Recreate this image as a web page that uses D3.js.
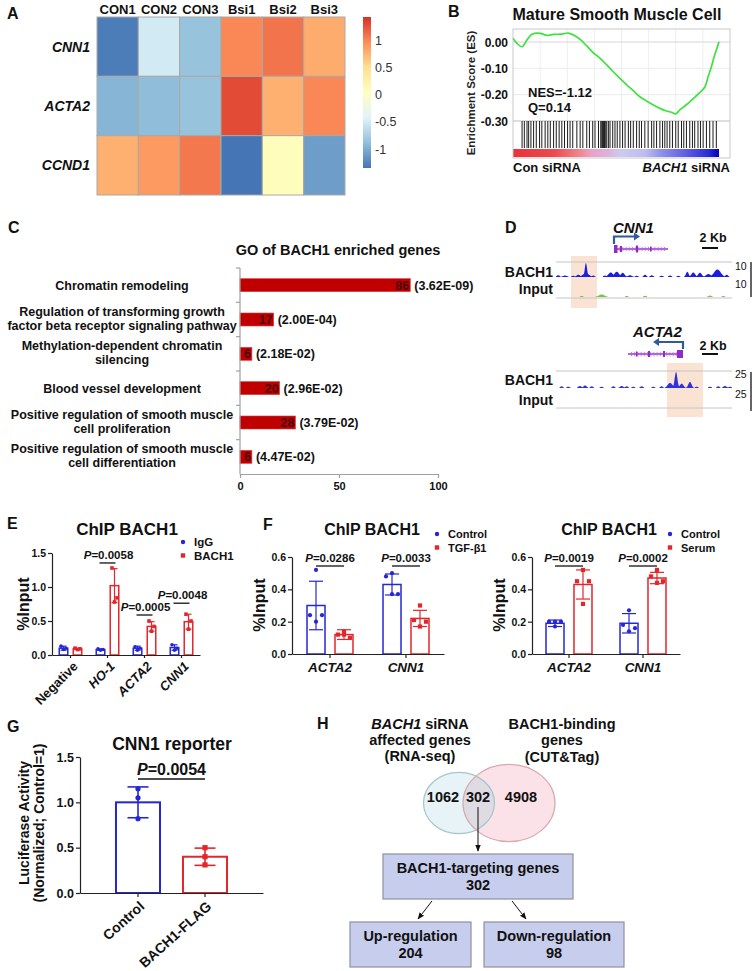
<!DOCTYPE html>
<html><head><meta charset="utf-8">
<script src="https://cdn.jsdelivr.net/npm/d3@7"></script>
<style>html,body{margin:0;padding:0;background:#fff}</style>
</head><body>
<svg id="fig" width="756" height="971" xmlns="http://www.w3.org/2000/svg"></svg>
<script>
// ================= DATA =================
// A: heatmap (row z-scores)
const hmSamples = ["CON1","CON2","CON3","Bsi1","Bsi2","Bsi3"];
const hmGenes = ["CNN1","ACTA2","CCND1"];
const hmCNN1 = [-1.3,-0.5,-0.85,1.0,1.1,0.8];
const hmACTA2 = [-0.95,-0.9,-0.85,1.3,0.78,1.0];
const hmCCND1 = [0.78,0.9,1.08,-1.35,0.08,-1.1];
const hmRange = [-1.35,1.44];
const hmLegendTicks = [1,0.5,0,-0.5,-1];

// B: GSEA running enrichment score
const esRank = [0,0.019,0.044,0.068,0.092,0.132,0.165,0.197,0.237,0.269,0.302,0.326,0.358,0.390,0.423,0.455,0.487,0.519,0.552,0.584,0.616,0.648,0.681,0.713,0.745,0.769,0.790,0.810,0.834,0.858,0.882,0.906,0.931,0.947,0.963,0.979,0.990,1.0];
const esValue = [0.014,-0.005,-0.018,0.008,0.029,0.033,0.025,0.029,0.030,0.034,0.023,0.010,-0.015,-0.041,-0.062,-0.087,-0.113,-0.138,-0.163,-0.185,-0.208,-0.224,-0.239,-0.252,-0.262,-0.267,-0.273,-0.258,-0.243,-0.227,-0.210,-0.192,-0.172,-0.132,-0.094,-0.049,-0.024,0.001];
const esHits = [0.044,0.055,0.068,0.076,0.087,0.100,0.113,0.129,0.140,0.156,0.169,0.181,0.197,0.210,0.224,0.237,0.250,0.265,0.277,0.290,0.310,0.326,0.339,0.358,0.371,0.387,0.398,0.415,0.426,0.431,0.435,0.439,0.444,0.448,0.455,0.463,0.471,0.484,0.495,0.506,0.519,0.532,0.544,0.560,0.571,0.584,0.600,0.613,0.624,0.640,0.656,0.673,0.684,0.697,0.713,0.726,0.737,0.748,0.761,0.774,0.790,0.802,0.818,0.829,0.842,0.858,0.871,0.882,0.898,0.910,0.923,0.939,0.955,0.971,0.987];
const esTicks = [0,-0.1,-0.2,-0.3];
const esStats = ["NES=-1.12","Q=0.14"];

// C: GO enrichment
const goTerms = [["Chromatin remodeling"],["Regulation of transforming growth","factor beta receptor signaling pathway"],["Methylation-dependent chromatin","silencing"],["Blood vessel development"],["Positive regulation of smooth muscle","cell proliferation"],["Positive regulation of smooth muscle","cell differentiation"]];
const goCounts = [86,17,6,20,28,6];
const goPvals = ["(3.62E-09)","(2.00E-04)","(2.18E-02)","(2.96E-02)","(3.79E-02)","(4.47E-02)"];
const goTicks = [0,50,100];

// D: CUT&Tag tracks, bumps [position 0-100, relative height, width]
const dCnn1Bach1 = [[1.3,0.12,1.1],[5.1,0.1,1.5],[9.8,0.08,1.1],[12.7,0.15,1.5],[17.0,0.93,0.9],[17.0,0.25,2.5],[21.2,0.1,1.0],[27.8,0.1,1.1],[31.1,0.3,1.9],[34.5,0.35,1.9],[37.9,0.28,1.5],[42.0,0.12,1.5],[45.8,0.08,1.1],[50.6,0.15,1.1],[54.4,0.12,1.1],[60.0,0.08,1.1],[64.8,0.1,1.1],[69.5,0.08,1.0],[74.6,0.35,1.1],[78.0,0.3,1.5],[81.8,0.28,1.5],[86.6,0.2,1.9],[91.7,0.5,2.65],[97.0,0.15,1.1]];
const dCnn1Input = [[14.6,0.08,1.0],[25.9,0.2,2.2],[40.2,0.08,1.0],[50.6,0.1,1.0],[87.5,0.12,1.2],[95.1,0.08,1.0]];
const dActa2Bach1 = [[3.2,0.1,1.1],[7.0,0.08,1.1],[13.6,0.12,1.3],[16.5,0.15,1.3],[20.3,0.1,1.1],[25.9,0.08,1.1],[32.6,0.1,1.1],[37.3,0.12,1.3],[40.2,0.1,1.1],[43.9,0.08,1.1],[48.7,0.1,1.1],[55.3,0.08,1.1],[60.0,0.1,1.1],[64.8,0.3,1.9],[68.2,0.94,1.1],[71.4,0.25,1.5],[76.1,0.35,1.3],[79.9,0.08,1.1],[87.5,0.08,1.1],[92.2,0.1,1.1],[96.0,0.12,1.3],[98.9,0.08,1.0]];
const dScales = ["10","25"];

// E: ChIP BACH1
const eCats = ["Negative","HO-1","ACTA2","CNN1"];
const eIgG = [0.10,0.08,0.10,0.11];
const eIgGErr = [0.03,0.01,0.03,0.04];
const eIgGPts = [[0.13,0.10,0.08],[0.09,0.08,0.07],[0.12,0.10,0.07],[0.15,0.10,0.07]];
const eBach1 = [0.09,1.02,0.42,0.49];
const eBach1Err = [0.01,0.25,0.07,0.11];
const eBach1Pts = [[0.10,0.09,0.08],[1.28,0.84,0.78],[0.50,0.42,0.35],[0.60,0.50,0.38]];
const eP = [null,"0.0058","0.0005","0.0048"];
const eTicks = [0,0.5,1.0,1.5];

// F: ChIP BACH1 (TGF-b1 / Serum)
const fCats = ["ACTA2","CNN1"];
const fCtlA = [0.30,0.43], fCtlAErr = [0.15,0.065], fCtlAPts = [[0.52,0.24,0.24,0.20],[0.50,0.48,0.37,0.37]];
const fTgf = [0.12,0.22], fTgfErr = [0.03,0.05], fTgfPts = [[0.14,0.12,0.10,0.12],[0.30,0.21,0.20,0.17]];
const fPA = ["0.0286","0.0033"];
const fCtlB = [0.19,0.19], fCtlBErr = [0.02,0.06], fCtlBPts = [[0.20,0.20,0.20,0.17],[0.27,0.18,0.16,0.14]];
const fSer = [0.43,0.47], fSerErr = [0.09,0.035], fSerPts = [[0.52,0.45,0.45,0.31],[0.52,0.48,0.45,0.44]];
const fPB = ["0.0019","0.0002"];
const fTicks = [0,0.2,0.4,0.6];

// G: CNN1 reporter
const gCats = ["Control","BACH1-FLAG"];
const gMean = [1.0,0.40];
const gErr = [0.17,0.095];
const gPts = [[1.15,1.05,0.82],[0.50,0.40,0.31]];
const gP = "0.0054";
const gTicks = [0,0.5,1.0,1.5];

// H: Venn / flow
const vennCounts = [1062,302,4908];
const targetCount = 302, upCount = 204, downCount = 98;

// ================= DRAW =================
const FF = '"Liberation Sans", Arial, Helvetica, sans-serif';
const svg = d3.select("#fig").attr("font-family", FF);
const defs = svg.append("defs");
const BLUE = "#2626d6", RED = "#e3262b";

function T(g, x, y, s, o = {}) {
  const t = g.append("text").attr("x", x).attr("y", y)
    .attr("font-size", o.size || 13)
    .attr("font-weight", o.weight || "bold")
    .attr("text-anchor", o.anchor || "start")
    .attr("fill", o.fill || "#111");
  if (o.italic) t.attr("font-style", "italic");
  if (o.rotate) t.attr("transform", `rotate(${o.rotate},${x},${y})`);
  if (s !== null) t.text(s);
  return t;
}
function pText(g, x, y, val, size) {
  const t = T(g, x, y, null, {size, anchor: "middle"});
  t.append("tspan").attr("font-style", "italic").text("P");
  t.append("tspan").text("=" + val);
  return t;
}
function styleAxis(ax, size, color) {
  ax.attr("font-family", FF);
  ax.selectAll("text").attr("font-size", size).attr("font-weight", "bold").attr("fill", "#111");
  ax.selectAll("path,line").attr("stroke", color || "#222").attr("stroke-width", 1.2);
}

// panel letters
[["A",7,19],["B",448,17],["C",8,233],["D",505,233],["E",7,529],["F",263,530],["G",7,732],["H",317,729]]
  .forEach(l => T(svg, l[1], l[2], l[0], {size: 16}));

// ---------- A ----------
const gA = svg.append("g");
const hmX = d3.scaleBand().domain(hmSamples).range([97, 345]);
const hmY = d3.scaleBand().domain(hmGenes).range([17, 195]);
const hmStops = ["#4575B4","#91BFDB","#E0F3F8","#FFFFBF","#FEE090","#FC8D59","#D73027"];
const hmColor = d3.scaleLinear()
  .domain(hmStops.map((c, i) => hmRange[0] + i * (hmRange[1] - hmRange[0]) / 6))
  .range(hmStops).clamp(true);
const hmRows = [hmCNN1, hmACTA2, hmCCND1];
hmGenes.forEach((gn, i) => {
  gA.selectAll(null).data(hmRows[i]).join("rect")
    .attr("x", (d, j) => hmX(hmSamples[j])).attr("y", hmY(gn))
    .attr("width", hmX.bandwidth()).attr("height", hmY.bandwidth())
    .attr("fill", d => hmColor(d)).attr("stroke", "#a9a9a9").attr("stroke-width", 1);
  T(gA, 90, hmY(gn) + hmY.bandwidth() / 2 + 5, gn, {size: 14, anchor: "end", italic: true});
});
hmSamples.forEach(s => T(gA, hmX(s) + hmX.bandwidth() / 2, 14, s, {size: 13, anchor: "middle"}));
const lgA = defs.append("linearGradient").attr("id", "hmGrad").attr("x1", 0).attr("y1", 1).attr("x2", 0).attr("y2", 0);
hmStops.forEach((c, i) => lgA.append("stop").attr("offset", i / 6).attr("stop-color", c));
const legY = d3.scaleLinear().domain(hmRange).range([168, 17]);
gA.append("rect").attr("x", 363).attr("y", legY(hmRange[1])).attr("width", 8)
  .attr("height", legY(hmRange[0]) - legY(hmRange[1])).attr("fill", "url(#hmGrad)");
hmLegendTicks.forEach(v => T(gA, 375, legY(v) + 4.5, String(v), {size: 12.5, weight: "normal", fill: "#333"}));

// ---------- B ----------
const gB = svg.append("g");
const fx0 = 513, fx1 = 730, fy0 = 29, fy1 = 158;
const esX = d3.scaleLinear([0, 1], [513, 719]);
const esY = d3.scaleLinear([0, -0.3], [42, 121]);
gB.append("rect").attr("x", fx0).attr("y", fy0).attr("width", fx1 - fx0).attr("height", fy1 - fy0).attr("fill", "#fff");
d3.range(1, 8).forEach(i => {
  const x = fx0 + i * (fx1 - fx0) / 8;
  gB.append("line").attr("x1", x).attr("x2", x).attr("y1", fy0).attr("y2", esY(-0.3)).attr("stroke", "#eeeeee");
});
esTicks.forEach(v => {
  gB.append("line").attr("x1", fx0).attr("x2", fx1).attr("y1", esY(v)).attr("y2", esY(v))
    .attr("stroke", v === -0.3 ? "#bdbdbd" : (v === 0 ? "#d6d6d6" : "#ebebeb")).attr("stroke-width", 1);
  T(gB, 508, esY(v) + 4.5, d3.format(".2f")(v).replace("−", "-"), {size: 12, anchor: "end"});
});
gB.append("path").datum(d3.zip(esRank, esValue))
  .attr("d", d3.line().x(d => esX(d[0])).y(d => esY(d[1])).curve(d3.curveCatmullRom))
  .attr("fill", "none").attr("stroke", "#3ee23e").attr("stroke-width", 1.7);
gB.selectAll(null).data(esHits).join("line")
  .attr("x1", d => esX(d)).attr("x2", d => esX(d)).attr("y1", esY(-0.3)).attr("y2", 148)
  .attr("stroke", "#1c1c1c").attr("stroke-width", 1);
const lgB = defs.append("linearGradient").attr("id", "esGrad");
[[0,"#e8333a"],[0.2,"#ec4a50"],[0.33,"#f08a92"],[0.38,"#e8a2c8"],[0.47,"#dcb4dc"],[0.52,"#cccbf2"],[0.64,"#bdbdf0"],[0.72,"#9090e8"],[0.85,"#5a5ae0"],[0.95,"#2a2ad6"],[1,"#0000c0"]]
  .forEach(s => lgB.append("stop").attr("offset", s[0]).attr("stop-color", s[1]));
gB.append("rect").attr("x", esX(0)).attr("y", 149).attr("width", esX(1) - esX(0)).attr("height", 8).attr("fill", "url(#esGrad)");
gB.append("rect").attr("x", fx0).attr("y", fy0).attr("width", fx1 - fx0).attr("height", fy1 - fy0)
  .attr("fill", "none").attr("stroke", "#c9c9c9").attr("stroke-width", 1);
T(gB, 617, 20, "Mature Smooth Muscle Cell", {size: 16, anchor: "middle"});
T(gB, 475, 93, "Enrichment Score (ES)", {size: 11.5, anchor: "middle", rotate: -90, fill: "#222"});
T(gB, 528, 97, esStats[0], {size: 13});
T(gB, 528, 112, esStats[1], {size: 13});
T(gB, 513, 172, "Con siRNA", {size: 13});
const bs = T(gB, 730, 172, null, {size: 13, anchor: "end"});
bs.append("tspan").attr("font-style", "italic").text("BACH1");
bs.append("tspan").text(" siRNA");

// ---------- C ----------
const gC = svg.append("g");
const goX = d3.scaleLinear([0, 100], [240, 438]);
const goY = d3.scaleBand().domain(d3.range(goCounts.length)).range([268, 474]);
T(gC, 338, 255, "GO of BACH1 enriched genes", {size: 14.5, anchor: "middle"});
const barH = 13;
goCounts.forEach((v, i) => {
  const cy = goY(i) + goY.bandwidth() / 2;
  gC.append("rect").attr("x", goX(0)).attr("y", cy - barH / 2).attr("width", goX(v) - goX(0)).attr("height", barH)
    .attr("fill", "#c00000").attr("stroke", "#dd3a3a").attr("stroke-width", 0.6);
  T(gC, goX(v) - 1, cy + 4.5, String(v), {size: 12.5, anchor: "end", fill: "#4a0000"});
  T(gC, goX(v) + 4, cy + 4.5, goPvals[i], {size: 12.5});
  const lines = goTerms[i];
  if (lines.length === 1) T(gC, 122, cy + 4.5, lines[0], {size: 12.5, anchor: "middle"});
  else { T(gC, 122, cy - 3.5, lines[0], {size: 12.5, anchor: "middle"}); T(gC, 122, cy + 10.5, lines[1], {size: 12.5, anchor: "middle"}); }
});
gC.append("line").attr("x1", 240).attr("x2", 240).attr("y1", goY.range()[0]).attr("y2", goY.range()[1]).attr("stroke", "#a0a0a0").attr("stroke-width", 1.2);
d3.range(goCounts.length).forEach(i => gC.append("line").attr("x1", 236).attr("x2", 240).attr("y1", goY(i)).attr("y2", goY(i)).attr("stroke", "#a0a0a0").attr("stroke-width", 1.2));
const axC = gC.append("g").attr("transform", "translate(0,474)").call(d3.axisBottom(goX).tickValues(goTicks).tickSize(4).tickPadding(4).tickSizeOuter(0));
styleAxis(axC, 11, "#a0a0a0");

// ---------- D ----------
const gD = svg.append("g");
const tX = d3.scaleLinear([0, 100], [556, 732]);
function track(bumps, base, height, color) {
  const us = d3.range(0, 100.01, 0.2);
  const vals = us.map(u => d3.max(bumps, b => b[1] * Math.exp(-(((u - b[0]) / b[2]) ** 2))));
  const area = d3.area().x((d, i) => tX(us[i])).y0(base).y1(d => base - Math.max(d * height, 0.8)).defined(d => d > 0.02);
  gD.append("path").datum(vals).attr("d", area).attr("fill", color);
}
function geneModel(x0, x1, y, dir, exons) {
  gD.append("line").attr("x1", x0).attr("x2", x1).attr("y1", y).attr("y2", y).attr("stroke", "#9a32cc").attr("stroke-width", 1.3);
  d3.range(x0 + 3, x1 - 2, 3.2).forEach(x => {
    const d = dir > 0 ? `M${x - 1.2},${y - 2.2}L${x + 1},${y}L${x - 1.2},${y + 2.2}` : `M${x + 1.2},${y - 2.2}L${x - 1},${y}L${x + 1.2},${y + 2.2}`;
    gD.append("path").attr("d", d).attr("fill", "none").attr("stroke", "#b068dc").attr("stroke-width", 0.8);
  });
  exons.forEach(e => gD.append("rect").attr("x", e[0]).attr("y", y - e[2] / 2).attr("width", e[1]).attr("height", e[2]).attr("fill", "#8e2cc4"));
}
function tssArrow(x, yb, yt, xe, dir) {
  gD.append("path").attr("d", `M${x},${yb}V${yt}H${xe}`).attr("fill", "none").attr("stroke", "#2f5b9b").attr("stroke-width", 2.2);
  gD.append("path").attr("d", `M${xe},${yt - 4}L${xe + dir * 6},${yt}L${xe},${yt + 4}Z`).attr("fill", "#2f5b9b");
}
// highlights
gD.append("rect").attr("x", 571).attr("y", 256).attr("width", 26).attr("height", 52).attr("fill", "#fbe3d3");
gD.append("rect").attr("x", 667).attr("y", 363).attr("width", 36).attr("height", 54).attr("fill", "#fbe3d3");
// CNN1 locus
T(gD, 613, 233, "CNN1", {size: 15, italic: true});
tssArrow(614, 244, 236.5, 634, 1);
geneModel(614, 668, 249, 1, [[614, 3.5, 8], [620, 2, 6], [636, 2, 7], [650, 1.5, 5]]);
gD.append("line").attr("x1", 702).attr("x2", 718).attr("y1", 248).attr("y2", 248).attr("stroke", "#111").attr("stroke-width", 2);
T(gD, 713, 242, "2 Kb", {size: 12.5, anchor: "middle"});
[262, 298].forEach(y => gD.append("line").attr("x1", 556).attr("x2", 732).attr("y1", y).attr("y2", y).attr("stroke", "#c4c4c4").attr("stroke-width", 1));
track(dCnn1Bach1, 277, 15, "#1d1de0");
track(dCnn1Input, 297, 13, "#7cc242");
T(gD, 553, 277, "BACH1", {size: 14, anchor: "end"});
T(gD, 553, 294, "Input", {size: 14, anchor: "end"});
T(gD, 735, 270, dScales[0], {size: 10.5, weight: "normal"});
T(gD, 735, 288, dScales[0], {size: 10.5, weight: "normal"});
gD.append("line").attr("x1", 751).attr("x2", 751).attr("y1", 262).attr("y2", 297).attr("stroke", "#111").attr("stroke-width", 1.3);
// ACTA2 locus
T(gD, 633, 337, "ACTA2", {size: 15, italic: true});
tssArrow(683, 349, 342, 659, -1);
geneModel(628, 683, 354, -1, [[677, 6, 8], [663, 2, 6], [648, 2, 6], [636, 1.5, 5]]);
gD.append("line").attr("x1", 702).attr("x2", 718).attr("y1", 354).attr("y2", 354).attr("stroke", "#111").attr("stroke-width", 2);
T(gD, 713, 350, "2 Kb", {size: 12.5, anchor: "middle"});
[371, 408].forEach(y => gD.append("line").attr("x1", 556).attr("x2", 732).attr("y1", y).attr("y2", y).attr("stroke", "#c4c4c4").attr("stroke-width", 1));
track(dActa2Bach1, 388, 17, "#3030dc");
T(gD, 553, 385, "BACH1", {size: 14, anchor: "end"});
T(gD, 553, 405, "Input", {size: 14, anchor: "end"});
T(gD, 735, 378, dScales[1], {size: 10.5, weight: "normal"});
T(gD, 735, 398, dScales[1], {size: 10.5, weight: "normal"});
gD.append("line").attr("x1", 751).attr("x2", 751).attr("y1", 372).attr("y2", 411).attr("stroke", "#111").attr("stroke-width", 1.3);

// ---------- bar helper ----------
function drawSeries(g, cats, xBand, inner, y, s, o) {
  const bw = inner.bandwidth(), off = inner(s.key) + bw / 2;
  cats.forEach((c, ci) => {
    const cx = xBand(c) + xBand.bandwidth() / 2 + off;
    const color = s.colors ? s.colors[ci] : s.color;
    const shape = s.shapes ? s.shapes[ci] : s.shape;
    const m = s.mean[ci], e = s.err[ci];
    g.append("rect").attr("x", cx - bw / 2).attr("y", y(m)).attr("width", bw).attr("height", y(0) - y(m))
      .attr("fill", "#fff").attr("stroke", color).attr("stroke-width", o.sw);
    const lo = Math.max(0, m - e), hi = m + e;
    g.append("line").attr("x1", cx).attr("x2", cx).attr("y1", y(lo)).attr("y2", y(hi)).attr("stroke", color).attr("stroke-width", o.ew);
    [lo, hi].forEach(v => g.append("line").attr("x1", cx - o.cap / 2).attr("x2", cx + o.cap / 2).attr("y1", y(v)).attr("y2", y(v)).attr("stroke", color).attr("stroke-width", o.ew));
    s.pts[ci].forEach((p, pi) => {
      const px = cx + o.jit[pi];
      if (shape === "circle") g.append("circle").attr("cx", px).attr("cy", y(p)).attr("r", o.pr).attr("fill", color);
      else g.append("rect").attr("x", px - o.pr).attr("y", y(p) - o.pr).attr("width", 2 * o.pr).attr("height", 2 * o.pr).attr("fill", color);
    });
  });
  return off;
}
function legend(g, x, y, items, size) {
  items.forEach((it, i) => {
    const yy = y + i * 13.5;
    if (it[1] === "circle") g.append("circle").attr("cx", x).attr("cy", yy).attr("r", 2.2).attr("fill", it[2]);
    else g.append("rect").attr("x", x - 2.2).attr("y", yy - 2.2).attr("width", 4.4).attr("height", 4.4).attr("fill", it[2]);
    T(g, x + 11, yy + 4, it[0], {size});
  });
}
function yAxis(g, y, x, ticks, size) {
  const ax = g.append("g").attr("transform", `translate(${x},0)`)
    .call(d3.axisLeft(y).tickValues(ticks).tickFormat(d3.format(".1f")).tickSize(4).tickPadding(2).tickSizeOuter(0));
  styleAxis(ax, size);
  return ax;
}

// ---------- E ----------
const gE = svg.append("g");
const eY = d3.scaleLinear([0, 1.5], [655, 553]);
const eX = d3.scaleBand().domain(eCats).range([52, 200]);
const eIn = d3.scaleBand().domain(["IgG", "BACH1"]).range([-14, 14]).paddingInner(0.39).paddingOuter(0.195);
const eOpt = {sw: 1.5, ew: 1.2, cap: 6, pr: 1.8, jit: [-2.5, 2.5, 0]};
drawSeries(gE, eCats, eX, eIn, eY, {key: "IgG", color: BLUE, shape: "circle", mean: eIgG, err: eIgGErr, pts: eIgGPts}, eOpt);
drawSeries(gE, eCats, eX, eIn, eY, {key: "BACH1", color: RED, shape: "square", mean: eBach1, err: eBach1Err, pts: eBach1Pts}, eOpt);
yAxis(gE, eY, 52, eTicks, 10.5);
const axE = gE.append("g").attr("transform", "translate(0,655)").call(d3.axisBottom(eX).tickSize(3).tickSizeOuter(0));
styleAxis(axE, 13);
axE.selectAll("text").attr("y", 0).attr("dy", "0.35em").attr("transform", "translate(5,9) rotate(-45)")
  .style("text-anchor", "end").attr("font-style", d => d === "Negative" ? "normal" : "italic");
// bracket gap above the highest mark (layout, px) per comparison
const eBracketGap = [0, 5, 6, 11];
eCats.forEach((c, ci) => {
  if (!eP[ci]) return;
  const c1 = eX(c) + eX.bandwidth() / 2 + eIn("IgG") + eIn.bandwidth() / 2;
  const c2 = eX(c) + eX.bandwidth() / 2 + eIn("BACH1") + eIn.bandwidth() / 2;
  const top = Math.max(eBach1[ci] + eBach1Err[ci], d3.max(eBach1Pts[ci]));
  const ly = eY(top) - eBracketGap[ci];
  gE.append("line").attr("x1", c1 - 1).attr("x2", c2 + 1).attr("y1", ly).attr("y2", ly).attr("stroke", "#111").attr("stroke-width", 1.3);
  pText(gE, (c1 + c2) / 2 + 1, ly - 4, eP[ci], 11.5);
});
T(gE, 127, 535, "ChIP BACH1", {size: 17, anchor: "middle"});
T(gE, 29, 604, "%Input", {size: 16, anchor: "middle", rotate: -90});
legend(gE, 183, 542, [["IgG", "circle", BLUE], ["BACH1", "square", RED]], 11.5);

// ---------- F ----------
function fPanel(x0, x1, ctl, ctlErr, ctlPts, trt, trtErr, trtPts, trtKey, pv, titleX, legX) {
  const g = svg.append("g");
  const y = d3.scaleLinear([0, 0.6], [654, 557]);
  const x = d3.scaleBand().domain(fCats).range([x0, x1]);
  const inn = d3.scaleBand().domain(["Control", trtKey]).range([-28, 28]).paddingInner(0.357).paddingOuter(0.179);
  const o = {sw: 1.5, ew: 1.2, cap: 14, pr: 2.1, jit: [0, -6, 6, 0]};
  drawSeries(g, fCats, x, inn, y, {key: "Control", color: BLUE, shape: "circle", mean: ctl, err: ctlErr, pts: ctlPts}, o);
  drawSeries(g, fCats, x, inn, y, {key: trtKey, color: RED, shape: "square", mean: trt, err: trtErr, pts: trtPts}, o);
  yAxis(g, y, x0, fTicks, 10.5);
  const ax = g.append("g").attr("transform", "translate(0,654)").call(d3.axisBottom(x).tickSize(4).tickPadding(4).tickSizeOuter(0));
  styleAxis(ax, 13.5);
  ax.selectAll("text").attr("font-style", "italic");
  fCats.forEach((c, ci) => {
    const c1 = x(c) + x.bandwidth() / 2 + inn("Control") + inn.bandwidth() / 2;
    const c2 = x(c) + x.bandwidth() / 2 + inn(trtKey) + inn.bandwidth() / 2;
    g.append("line").attr("x1", c1).attr("x2", c2).attr("y1", 566).attr("y2", 566).attr("stroke", "#111").attr("stroke-width", 1.3);
    pText(g, (c1 + c2) / 2, 562, pv[ci], 11.5);
  });
  T(g, titleX, 535, "ChIP BACH1", {size: 16, anchor: "middle"});
  T(g, x0 - 27, 605, "%Input", {size: 16, anchor: "middle", rotate: -90});
  legend(g, legX, 534, [["Control", "circle", BLUE], [trtKey, "square", RED]], 11);
}
fPanel(292, 444, fCtlA, fCtlAErr, fCtlAPts, fTgf, fTgfErr, fTgfPts, "TGF-β1", fPA, 372, 437);
fPanel(532, 680, fCtlB, fCtlBErr, fCtlBPts, fSer, fSerErr, fSerPts, "Serum", fPB, 609, 670);

// ---------- G ----------
const gG = svg.append("g");
const gY = d3.scaleLinear([0, 1.5], [893, 757]);
const gX = d3.scaleBand().domain(gCats).range([80, 263]).paddingInner(0.343).paddingOuter(0.537);
const gIn = d3.scaleBand().domain(["all"]).range([-gX.bandwidth() / 2, gX.bandwidth() / 2]);
drawSeries(gG, gCats, gX, gIn, gY, {key: "all", colors: [BLUE, RED], shapes: ["circle", "square"], mean: gMean, err: gErr, pts: gPts},
  {sw: 2, ew: 1.6, cap: 21, pr: 2.6, jit: [0, 0, 0]});
yAxis(gG, gY, 80, gTicks, 12.5);
const axG = gG.append("g").attr("transform", "translate(0,893)").call(d3.axisBottom(gX).tickSize(4).tickSizeOuter(0));
styleAxis(axG, 14);
axG.selectAll("text").attr("y", 0).attr("dy", "0.35em").attr("transform", "translate(4,11) rotate(-42)").style("text-anchor", "end");
{
  const c1 = gX(gCats[0]) + gX.bandwidth() / 2, c2 = gX(gCats[1]) + gX.bandwidth() / 2;
  gG.append("line").attr("x1", c1).attr("x2", c2).attr("y1", 779).attr("y2", 779).attr("stroke", "#111").attr("stroke-width", 1.5);
  pText(gG, (c1 + c2) / 2, 775, gP, 16);
}
T(gG, 172, 750, "CNN1 reporter", {size: 17.5, anchor: "middle"});
T(gG, 29, 823, "Luciferase Activity", {size: 14, anchor: "middle", rotate: -90});
T(gG, 44, 823, "(Normalized; Control=1)", {size: 14, anchor: "middle", rotate: -90});

// ---------- H ----------
const gH = svg.append("g");
defs.append("marker").attr("id", "arr").attr("viewBox", "0 0 10 10").attr("refX", 9).attr("refY", 5)
  .attr("markerWidth", 7).attr("markerHeight", 7).attr("orient", "auto")
  .append("path").attr("d", "M0,1L10,5L0,9Z").attr("fill", "#111");
const t1 = T(gH, 420, 729, null, {size: 14.5, anchor: "middle"});
t1.append("tspan").attr("font-style", "italic").text("BACH1");
t1.append("tspan").text(" siRNA");
T(gH, 420, 745, "affected genes", {size: 14.5, anchor: "middle"});
T(gH, 420, 761, "(RNA-seq)", {size: 14.5, anchor: "middle"});
T(gH, 562, 729, "BACH1-binding", {size: 14.5, anchor: "middle"});
T(gH, 562, 745, "genes", {size: 14.5, anchor: "middle"});
T(gH, 562, 762, "(CUT&Tag)", {size: 14.5, anchor: "middle"});
const eL = {cx: 459, cy: 803, rx: 35.5, ry: 30.7}, eR = {cx: 509, cy: 803, rx: 46, ry: 38.7};
defs.append("clipPath").attr("id", "clipL").append("ellipse").attr("cx", eL.cx).attr("cy", eL.cy).attr("rx", eL.rx).attr("ry", eL.ry);
gH.append("ellipse").attr("cx", eL.cx).attr("cy", eL.cy).attr("rx", eL.rx).attr("ry", eL.ry).attr("fill", "#e7f3f6");
gH.append("ellipse").attr("cx", eR.cx).attr("cy", eR.cy).attr("rx", eR.rx).attr("ry", eR.ry).attr("fill", "#fae2e8");
gH.append("ellipse").attr("cx", eR.cx).attr("cy", eR.cy).attr("rx", eR.rx).attr("ry", eR.ry).attr("fill", "#dedbe3").attr("clip-path", "url(#clipL)");
gH.append("ellipse").attr("cx", eL.cx).attr("cy", eL.cy).attr("rx", eL.rx).attr("ry", eL.ry).attr("fill", "none").attr("stroke", "#a3c6cc").attr("stroke-width", 1.2);
gH.append("ellipse").attr("cx", eR.cx).attr("cy", eR.cy).attr("rx", eR.rx).attr("ry", eR.ry).attr("fill", "none").attr("stroke", "#d7a9b1").attr("stroke-width", 1.2);
[443, 478, 521].forEach((x, i) => T(gH, x, 802, String(vennCounts[i]), {size: 14.5, anchor: "middle"}));
gH.append("line").attr("x1", 478).attr("x2", 478).attr("y1", 807).attr("y2", 851).attr("stroke", "#111").attr("stroke-width", 1).attr("marker-end", "url(#arr)");
function box(x, y, w, h, l1, l2) {
  gH.append("rect").attr("x", x).attr("y", y).attr("width", w).attr("height", h).attr("fill", "#c7cdec").attr("stroke", "#8e90a4").attr("stroke-width", 1.2);
  T(gH, x + w / 2, y + 19, l1, {size: 14.5, anchor: "middle"});
  T(gH, x + w / 2, y + 36, l2, {size: 14.5, anchor: "middle"});
}
box(383, 854, 190, 45, "BACH1-targeting genes", String(targetCount));
gH.append("line").attr("x1", 432).attr("x2", 418).attr("y1", 901).attr("y2", 919).attr("stroke", "#111").attr("stroke-width", 1).attr("marker-end", "url(#arr)");
gH.append("line").attr("x1", 512).attr("x2", 526).attr("y1", 901).attr("y2", 919).attr("stroke", "#111").attr("stroke-width", 1).attr("marker-end", "url(#arr)");
box(350, 922, 121, 45, "Up-regulation", String(upCount));
box(484, 922, 140, 45, "Down-regulation", String(downCount));
</script>
</body></html>
